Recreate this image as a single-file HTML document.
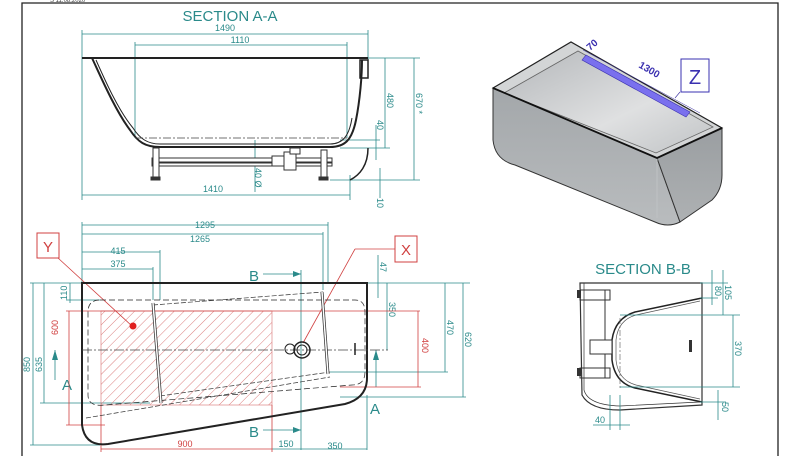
<!DOCTYPE html>
<html><head><meta charset="utf-8"><style>
html,body{margin:0;padding:0;background:#fff;}
svg{display:block;font-family:"Liberation Sans",sans-serif;}
.t{stroke:#2a8a8a;stroke-width:0.8;fill:none}
.tt{fill:#2a8a8a;font-size:9px}
.r{stroke:#d04040;stroke-width:0.8;fill:none}
.rt{fill:#d04040;font-size:9px}
.k{stroke:#222;fill:none}
</style></head><body>
<svg width="800" height="456" viewBox="0 0 800 456" xmlns="http://www.w3.org/2000/svg">
<defs>
<pattern id="h" width="7" height="7" patternUnits="userSpaceOnUse" patternTransform="rotate(45)">
<line x1="0" y1="0" x2="0" y2="7" stroke="#d87070" stroke-width="0.9"/></pattern>
<linearGradient id="g1" x1="0" y1="0" x2="0" y2="1"><stop offset="0" stop-color="#a3a7aa"/><stop offset="1" stop-color="#b9bcbe"/></linearGradient>
<linearGradient id="g3" x1="0" y1="0" x2="0" y2="1"><stop offset="0" stop-color="#9a9ea1"/><stop offset="1" stop-color="#aeb1b3"/></linearGradient>
<linearGradient id="g2" x1="0" y1="0" x2="1" y2="1"><stop offset="0" stop-color="#b4b7ba"/><stop offset="0.6" stop-color="#dfe0e1"/><stop offset="1" stop-color="#c0c3c5"/></linearGradient>
</defs>
<!-- frame -->
<path d="M22,456 V3 H778 V456" stroke="#222" stroke-width="1.3" fill="none"/>
<text x="50" y="2" font-size="6" fill="#444">S 11.08.2020</text>

<!-- SECTION A-A -->
<text x="230" y="21" text-anchor="middle" fill="#2a8a8a" font-size="15">SECTION A-A</text>
<g class="t">
<line x1="82" y1="34" x2="368" y2="34"/><line x1="135" y1="45" x2="347" y2="45"/>
<line x1="82" y1="30" x2="82" y2="200"/><line x1="368" y1="30" x2="368" y2="60"/>
<line x1="135" y1="42" x2="135" y2="138"/><line x1="347" y1="42" x2="347" y2="138"/>
<line x1="82" y1="195" x2="350" y2="195"/><line x1="350" y1="175" x2="350" y2="200"/>
<line x1="385" y1="58" x2="385" y2="148"/><line x1="414" y1="58" x2="414" y2="180"/>
<line x1="368" y1="58" x2="420" y2="58"/><line x1="340" y1="148" x2="390" y2="148"/>
<line x1="376" y1="125" x2="376" y2="160"/><line x1="340" y1="140" x2="380" y2="140"/>
<line x1="380" y1="168" x2="380" y2="198"/><line x1="330" y1="180" x2="420" y2="180"/>
<line x1="255" y1="140" x2="255" y2="192"/>
</g>
<text class="tt" x="225" y="31" text-anchor="middle">1490</text>
<text class="tt" x="240" y="43" text-anchor="middle">1110</text>
<text class="tt" x="213" y="192" text-anchor="middle">1410</text>
<text class="tt" transform="translate(387,93) rotate(90)">480</text>
<text class="tt" transform="translate(377,120) rotate(90)">40</text>
<text class="tt" transform="translate(416,93) rotate(90)">670 *</text>
<text class="tt" transform="translate(377,198) rotate(90)">10</text>
<text class="tt" transform="translate(255,168) rotate(90)">40 Ø</text>
<path class="k" stroke-width="2" d="M82,58 H368 M92,58 C100,75 115,110 130,130 C138,142 145,147 160,147 H330 C345,147 352,140 356,120 C360,100 362,75 362,60"/>
<path class="k" stroke-width="1" d="M96,60 C104,78 118,110 133,128 C140,139 148,144 160,144 H330 C342,144 349,137 352,118"/>
<line x1="135" y1="138" x2="347" y2="138" stroke="#444" stroke-width="0.7" stroke-dasharray="8,2,2,2"/>
<rect x="360" y="60" width="8" height="18" fill="none" stroke="#222" stroke-width="1.5"/>
<path class="k" stroke-width="1.5" d="M368,148 C368,165 360,175 350,180"/>
<g stroke="#333" stroke-width="1" fill="#fff">
<rect x="152" y="158" width="180" height="4"/><rect x="152" y="163" width="180" height="3"/>
<rect x="153" y="148" width="6" height="30"/><rect x="321" y="150" width="6" height="28"/>
<rect x="151" y="177" width="9" height="3" fill="#333"/><rect x="319" y="177" width="9" height="3" fill="#333"/>
<rect x="272" y="156" width="12" height="10"/><rect x="284" y="152" width="12" height="18"/><rect x="290" y="148" width="10" height="6"/>
</g>

<!-- PLAN VIEW -->
<g class="t">
<line x1="82" y1="225" x2="328" y2="225"/><line x1="82" y1="234" x2="323" y2="234"/>
<line x1="82" y1="252" x2="160" y2="252"/><line x1="82" y1="269" x2="153" y2="269"/>
<line x1="82" y1="222" x2="82" y2="283"/><line x1="328" y1="222" x2="328" y2="283"/><line x1="323" y1="232" x2="323" y2="290"/>
<line x1="160" y1="250" x2="160" y2="300"/><line x1="153" y1="267" x2="153" y2="300"/>
<line x1="30" y1="283" x2="470" y2="283"/>
<line x1="33" y1="283" x2="33" y2="445"/><line x1="30" y1="445" x2="100" y2="445"/>
<line x1="44" y1="283" x2="44" y2="403"/><line x1="40" y1="403" x2="150" y2="403"/>
<line x1="70" y1="283" x2="70" y2="303"/><line x1="66" y1="300" x2="100" y2="300"/>
<line x1="387" y1="283" x2="387" y2="350"/><line x1="445" y1="283" x2="445" y2="372"/><line x1="330" y1="372" x2="448" y2="372"/>
<line x1="463" y1="283" x2="463" y2="397"/><line x1="340" y1="397" x2="466" y2="397"/>
<line x1="378" y1="255" x2="378" y2="298"/>
<line x1="301" y1="270" x2="301" y2="450"/><line x1="367" y1="395" x2="367" y2="450"/>
<line x1="301" y1="449" x2="367" y2="449"/><line x1="272" y1="449" x2="301" y2="449"/>
<line x1="263" y1="274" x2="301" y2="274"/><line x1="263" y1="430" x2="301" y2="430"/>
<line x1="55" y1="350" x2="55" y2="380"/><line x1="376" y1="350" x2="376" y2="387"/>
</g>
<path d="M293,271 L301,274 L293,277Z M293,427 L301,430 L293,433Z M52,360 L55,350 L58,360Z M373,360 L376,350 L379,360Z" fill="#2a8a8a"/>
<text class="tt" x="205" y="228" text-anchor="middle">1295</text>
<text class="tt" x="200" y="242" text-anchor="middle">1265</text>
<text class="tt" x="118" y="254" text-anchor="middle">415</text>
<text class="tt" x="118" y="267" text-anchor="middle">375</text>
<text class="tt" x="335" y="449" text-anchor="middle">350</text>
<text class="tt" x="286" y="447" text-anchor="middle">150</text>
<text class="tt" transform="translate(30,372) rotate(-90)">850</text>
<text class="tt" transform="translate(42,372) rotate(-90)">635</text>
<text class="tt" transform="translate(67,300) rotate(-90)">110</text>
<text class="tt" transform="translate(389,302) rotate(90)">350</text>
<text class="tt" transform="translate(447,320) rotate(90)">470</text>
<text class="tt" transform="translate(465,332) rotate(90)">620</text>
<text class="tt" transform="translate(380,262) rotate(90)">47</text>
<text x="62" y="390" fill="#2a8a8a" font-size="15">A</text>
<text x="370" y="414" fill="#2a8a8a" font-size="15">A</text>
<text x="249" y="281" fill="#2a8a8a" font-size="15">B</text>
<text x="249" y="437" fill="#2a8a8a" font-size="15">B</text>
<!-- hatched -->
<rect x="101" y="311" width="171" height="94" fill="url(#h)" stroke="#d87070" stroke-width="0.6"/>
<g class="r">
<line x1="66" y1="311" x2="420" y2="311"/><line x1="66" y1="425" x2="105" y2="425"/>
<line x1="69" y1="311" x2="69" y2="425"/><line x1="418" y1="311" x2="418" y2="387"/>
<line x1="340" y1="387" x2="421" y2="387"/>
<line x1="101" y1="405" x2="101" y2="452"/><line x1="272" y1="405" x2="272" y2="452"/>
<line x1="101" y1="449" x2="272" y2="449"/>
<line x1="58" y1="258" x2="132" y2="326"/><line x1="395" y1="249" x2="355" y2="249"/><line x1="355" y1="249" x2="303" y2="343"/>
</g>
<text class="rt" x="185" y="447" text-anchor="middle">900</text>
<text class="rt" transform="translate(58,335) rotate(-90)">600</text>
<text class="rt" transform="translate(422,338) rotate(90)">400</text>
<circle cx="133" cy="326" r="3.5" fill="#e02020"/>
<rect x="37" y="233" width="22" height="25" fill="#fff" stroke="#d04040"/><text x="48" y="252" fill="#d04040" font-size="15" text-anchor="middle">Y</text>
<rect x="395" y="236" width="22" height="26" fill="#fff" stroke="#d04040"/><text x="406" y="255" fill="#d04040" font-size="15" text-anchor="middle">X</text>
<!-- tub outline -->
<path d="M82,283 H367 V378 Q367,398 345,404 L108,444 Q85,447 82,425 Z" fill="none" stroke="#222" stroke-width="2"/>
<path d="M100,300 H355 Q365,300 365,312 V372 Q365,385 352,385 L105,405 Q88,407 88,395 V312 Q88,300 100,300Z" fill="none" stroke="#222" stroke-width="0.7" stroke-dasharray="6,3"/>
<line x1="82" y1="350" x2="388" y2="350" stroke="#444" stroke-width="0.7" stroke-dasharray="10,2,2,2"/>
<line x1="153" y1="305" x2="323" y2="292" stroke="#333" stroke-width="0.7" stroke-dasharray="5,2"/>
<line x1="160" y1="396" x2="330" y2="372" stroke="#333" stroke-width="0.7" stroke-dasharray="5,2"/>
<line x1="86" y1="418" x2="330" y2="377" stroke="#333" stroke-width="0.7" stroke-dasharray="5,2"/>
<line x1="153" y1="303" x2="161" y2="403" stroke="#333" stroke-width="3"/><line x1="153" y1="303" x2="161" y2="403" stroke="#fff" stroke-width="1.5"/>
<line x1="322" y1="292" x2="328" y2="374" stroke="#333" stroke-width="3"/><line x1="322" y1="292" x2="328" y2="374" stroke="#fff" stroke-width="1.5"/>
<circle cx="302" cy="350" r="8" fill="none" stroke="#222" stroke-width="1.5"/><circle cx="302" cy="350" r="5" fill="none" stroke="#222"/>
<circle cx="290" cy="349" r="5" fill="none" stroke="#222"/>
<line x1="355" y1="343" x2="355" y2="355" stroke="#222" stroke-width="1.5"/>

<!-- 3D view -->
<path d="M493,88 L493,140 Q495,160 515,165 L655,222 Q668,228 680,222 L657,158 Z" fill="url(#g1)" stroke="#333" stroke-width="1"/>
<path d="M657,158 L680,222 L712,200 Q722,190 722,175 L722,128 Z" fill="url(#g3)" stroke="#333" stroke-width="1"/>
<path d="M657,158 L657,218" stroke="#bfc2c4" stroke-width="1"/>
<path d="M493,88 L571,42 L722,128 L657,158 Z" fill="#d3d5d6" stroke="#222" stroke-width="1.2"/>
<path d="M504,93 L578,51 L713,127 L656,153 Z" fill="url(#g2)" stroke="#666" stroke-width="0.8"/>
<path d="M493,88 L657,158 L722,128" fill="none" stroke="#111" stroke-width="1.8"/>
<path d="M586,55 L690,112 L686,117 L582,60 Z" fill="#7a70ee" stroke="#3a30b0" stroke-width="0.6"/>
<line x1="583" y1="50" x2="700" y2="113" stroke="#3a30a0" stroke-width="0.5"/>
<text x="0" y="0" fill="#3a30b0" font-size="10" font-weight="bold" transform="translate(590,51) rotate(-40)">70</text>
<text x="0" y="0" fill="#3a30b0" font-size="10" font-weight="bold" transform="translate(638,67) rotate(30)">1300</text>
<line x1="680" y1="92" x2="675" y2="98" stroke="#3a30a0" stroke-width="0.6"/>
<rect x="681" y="59" width="28" height="33" fill="#fff" stroke="#3a30b0"/><text x="695" y="84" text-anchor="middle" fill="#3a30b0" font-size="20">Z</text>

<!-- SECTION B-B -->
<text x="643" y="274" text-anchor="middle" fill="#2a8a8a" font-size="15">SECTION B-B</text>
<path d="M580,283 H702 V405 L620,410 Q590,410 582,395 Z" fill="none" stroke="#333" stroke-width="1.2"/>
<path d="M584,283 V390 Q588,405 620,406 L700,402" fill="none" stroke="#333" stroke-width="0.7"/>
<path d="M702,298 L635,312 Q615,318 612,340 V360 Q615,383 635,388 L702,402" fill="none" stroke="#222" stroke-width="1.5"/>
<path d="M700,301 L636,315 Q618,320 616,340 V360 Q618,380 636,385 L700,399" fill="none" stroke="#555" stroke-width="0.7"/>
<rect x="580" y="290" width="30" height="10" fill="none" stroke="#333"/><rect x="580" y="368" width="30" height="10" fill="none" stroke="#333"/>
<line x1="605" y1="290" x2="605" y2="378" stroke="#333"/>
<rect x="590" y="340" width="22" height="14" fill="#fff" stroke="#333"/>
<rect x="577" y="290" width="4" height="8" fill="#333"/><rect x="577" y="368" width="4" height="8" fill="#333"/>
<rect x="689" y="340" width="3" height="12" fill="#333"/>
<line x1="620" y1="318" x2="620" y2="390" stroke="#555" stroke-width="0.6" stroke-dasharray="6,2,2,2"/>
<g class="t">
<line x1="700" y1="283" x2="728" y2="283"/><line x1="700" y1="298" x2="718" y2="298"/>
<line x1="620" y1="315" x2="740" y2="315"/><line x1="620" y1="387" x2="740" y2="387"/>
<line x1="700" y1="402" x2="726" y2="402"/>
<line x1="712" y1="270" x2="712" y2="305"/><line x1="723" y1="270" x2="723" y2="315"/>
<line x1="733" y1="315" x2="733" y2="387"/><line x1="718" y1="390" x2="718" y2="420"/>
<line x1="593" y1="425" x2="630" y2="425"/><line x1="610" y1="395" x2="610" y2="430"/><line x1="620" y1="395" x2="620" y2="430"/>
</g>
<text class="tt" transform="translate(715,286) rotate(90)">80</text>
<text class="tt" transform="translate(725,285) rotate(90)">105</text>
<text class="tt" transform="translate(735,341) rotate(90)">370</text>
<text class="tt" transform="translate(722,402) rotate(90)">50</text>
<text class="tt" x="600" y="423" text-anchor="middle">40</text>
</svg>
</body></html>
